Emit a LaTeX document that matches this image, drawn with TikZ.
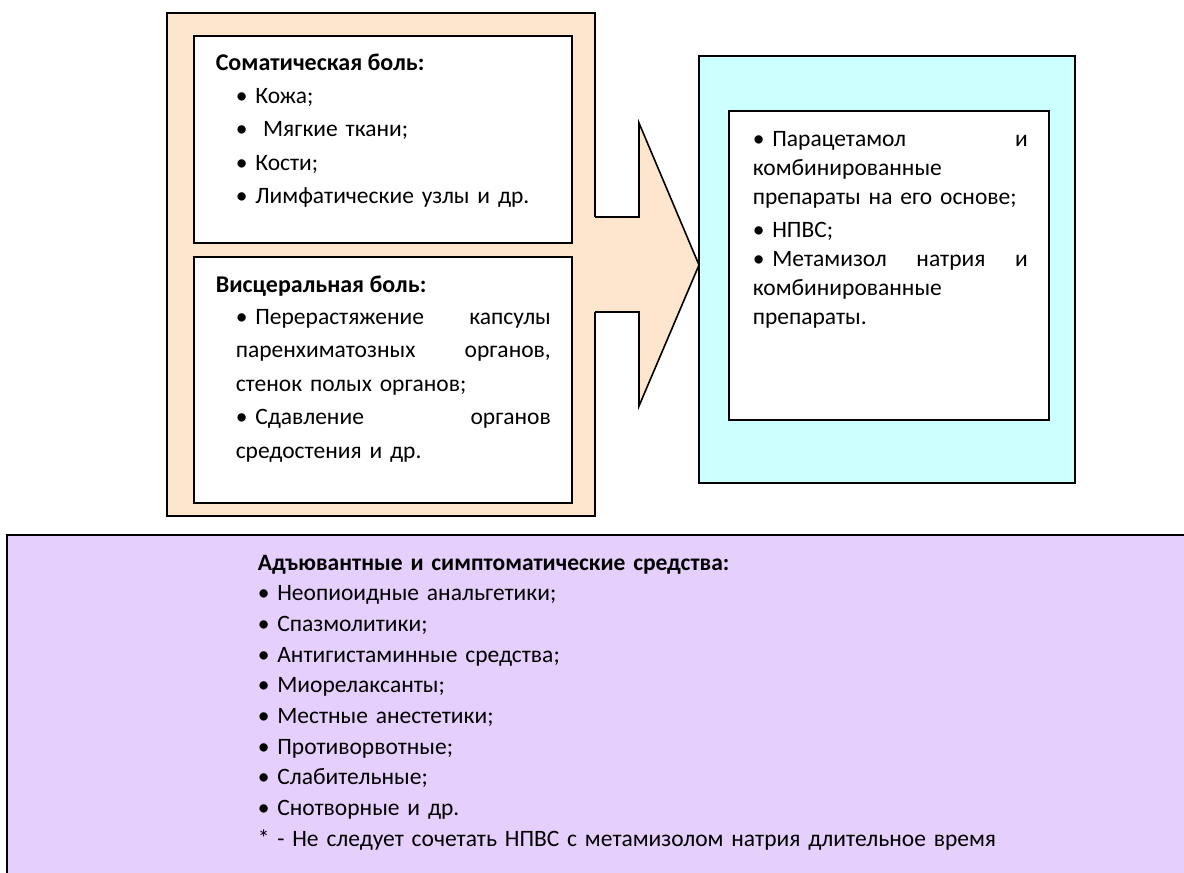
\documentclass[tikz,border=0pt]{standalone}
\usepackage{fontspec}
\setmainfont{Carlito}
\definecolor{peach}{RGB}{253,229,206}
\definecolor{skycyan}{RGB}{204,255,255}
\definecolor{lilac}{RGB}{229,207,252}

\begin{document}
\begin{tikzpicture}[x=1pt,y=-1pt,line width=1.6pt,
 txt/.style={anchor=base west,inner sep=0pt,align=left,font=\fontsize{23.5}{33.5}\selectfont},
 head/.style={txt,font=\fontsize{24}{33.5}\selectfont\bfseries}]
 \useasboundingbox (0,0) rectangle (1184,873);
 \clip (0,0) rectangle (1184,873);

 \draw[fill=peach] (167,13) rectangle (595,516);
 \fill[peach] (590,217) -- (639,217) -- (639,123) -- (699,265) -- (639,406) -- (639,312) -- (590,312) -- cycle;
 \draw (595,217) -- (639,217) -- (639,123) -- (699,265) -- (639,406) -- (639,312) -- (595,312);
 \draw[fill=white] (194,36) rectangle (572,243);
 \draw[fill=white] (194,257) rectangle (572,503);
 \draw[fill=skycyan] (699,56) rectangle (1075,483);
 \draw[fill=white] (729,111) rectangle (1049,420);
 \draw[fill=lilac] (7,535) rectangle (1200,890);

 \node[head] (somhead) at (215,70) {Соматическая боль:};
 \node[txt,text width=300pt] (somlist) at (235,103)
  {• Кожа;\\•\ \ Мягкие ткани;\\• Кости;\\• Лимфатические узлы и др.};

 \node[head] (vishead) at (215,292) {Висцеральная боль:};
 \node[txt,text width=315pt] (vislist) at (235,324)
  {• Перерастяжение\hfill капсулы\\паренхиматозных\hfill органов,\\стенок полых органов;\\• Сдавление\hfill органов\\средостения и др.};

 \node[txt,text width=275pt,font=\fontsize{23.5}{29}\selectfont] (drugs) at (752,146)
  {• Парацетамол\hfill и\\комбинированные\\препараты на его основе;\\[4pt]• НПВС;\\• Метамизол\hfill натрия\hfill и\\комбинированные\\препараты.};

 \node[txt,text width=800pt,font=\fontsize{23.5}{30.7}\selectfont] (adjuv) at (257,570)
  {\textbf{Адъювантные и симптоматические средства:}\\• Неопиоидные анальгетики;\\• Спазмолитики;\\• Антигистаминные средства;\\• Миорелаксанты;\\• Местные анестетики;\\• Противорвотные;\\• Слабительные;\\• Снотворные и др.\\\relax* - Не следует сочетать НПВС с метамизолом натрия длительное время};
\end{tikzpicture}
\end{document}
